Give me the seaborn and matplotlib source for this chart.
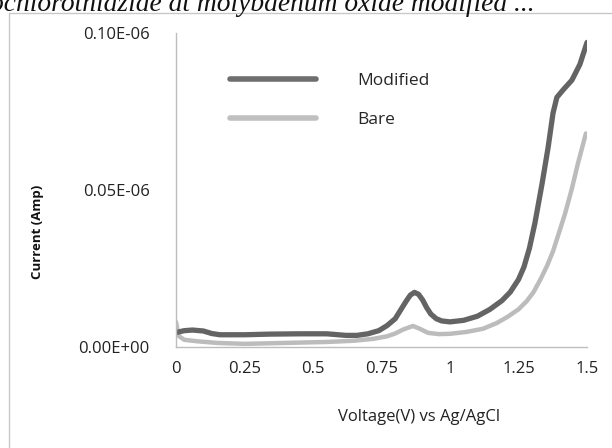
import matplotlib
matplotlib.use("Agg")
import matplotlib.pyplot as plt
import seaborn as sns
import pandas as pd
from matplotlib.lines import Line2D

# ---- data ----
mod_v = [0, 0.03, 0.06, 0.10, 0.13, 0.16, 0.25, 0.34, 0.45, 0.55, 0.62, 0.66, 0.70, 0.74,
         0.77, 0.80, 0.82, 0.84, 0.855, 0.87, 0.885, 0.90, 0.915, 0.93, 0.95, 0.97, 1.0,
         1.05, 1.1, 1.146, 1.19, 1.22, 1.25, 1.27, 1.29, 1.31, 1.336, 1.358, 1.376, 1.39,
         1.412, 1.445, 1.474, 1.50]
mod_i = [4.6, 5.2, 5.4, 5.1, 4.3, 3.9, 3.9, 4.1, 4.2, 4.2, 3.7, 3.7, 4.2, 5.2,
         6.8, 9.0, 11.8, 14.6, 16.5, 17.4, 16.8, 15.0, 12.5, 10.5, 9.0, 8.3, 8.0,
         8.5, 9.8, 12.0, 14.8, 17.5, 21.5, 25.5, 31.5, 39.5, 52.0, 63.5, 74.5, 79.5,
         81.8, 85.0, 90.0, 97.0]
bare_v = [0, 0.01, 0.03, 0.08, 0.15, 0.25, 0.35, 0.45, 0.55, 0.65, 0.72, 0.77, 0.80, 0.83,
          0.865, 0.89, 0.92, 0.96, 1.0, 1.06, 1.12, 1.17, 1.21, 1.25, 1.28, 1.305, 1.33,
          1.355, 1.376, 1.40, 1.42, 1.445, 1.467, 1.496]
bare_i = [8.0, 3.5, 2.3, 1.8, 1.3, 1.0, 1.2, 1.4, 1.6, 2.0, 2.6, 3.4, 4.3, 5.6,
          6.7, 5.8, 4.5, 4.1, 4.2, 4.8, 5.8, 7.6, 9.6, 12.0, 14.6, 17.5, 21.5,
          26.0, 30.5, 37.0, 42.5, 50.5, 58.5, 68.0]
x_ticks = [0, 0.25, 0.5, 0.75, 1, 1.25, 1.5]
x_tick_labels = ["0", "0.25", "0.5", "0.75", "1", "1.25", "1.5"]
y_ticks = [0, 0.05e-6, 0.10e-6]
y_tick_labels = ["0.00E+00", "0.05E-06", "0.10E-06"]

sns.set_style("white")
plt.rcParams['font.family'] = ['Open Sans', 'DejaVu Sans']

df_mod = pd.DataFrame({"Voltage": mod_v, "Current": [v * 1e-9 for v in mod_i]})
df_bare = pd.DataFrame({"Voltage": bare_v, "Current": [v * 1e-9 for v in bare_i]})

fig = plt.figure(figsize=(6.12, 4.48), dpi=100)
ax = fig.add_axes([176/612, 1 - 347/448, (587-176)/612, (347-33)/448])

sns.lineplot(data=df_bare, x="Voltage", y="Current", ax=ax, color="#bcbcbc",
             linewidth=3.2, sort=False, solid_joinstyle="round",
             solid_capstyle="round", legend=False)
sns.lineplot(data=df_mod, x="Voltage", y="Current", ax=ax, color="#646464",
             linewidth=3.8, sort=False, solid_joinstyle="round",
             solid_capstyle="round", legend=False)

ax.set_xlim(0, 1.5)
ax.set_ylim(0, 1.0e-7)
ax.set_xticks(x_ticks)
ax.set_xticklabels(x_tick_labels)
ax.set_yticks(y_ticks)
ax.set_yticklabels(y_tick_labels)
ax.tick_params(axis="both", length=0, labelsize=12, colors="#222222")
ax.tick_params(axis="x", pad=10)
ax.tick_params(axis="y", pad=19)
ax.set_xlabel("")
ax.set_ylabel("")
for s in ["top", "right"]:
    ax.spines[s].set_visible(False)
for s in ["left", "bottom"]:
    ax.spines[s].set_color("#bdbdbd")
    ax.spines[s].set_linewidth(1.0)

handles = [Line2D([], [], color="#6e6e6e", linewidth=4),
           Line2D([], [], color="#c0c0c0", linewidth=4)]
fig.legend(handles, ["Modified", "Bare"], loc="upper left",
           bbox_to_anchor=(230/612, 1 - 73/448), frameon=False, fontsize=12.5,
           handlelength=4.95, handletextpad=2.4, labelspacing=1.32,
           borderpad=0, borderaxespad=0)

fig.text(37/612, 1 - 232/448, "Current (Amp)", rotation=90, ha="center", va="center",
         fontsize=9.5, fontweight="bold", color="#111111")
fig.text(419/612, 1 - 417/448, "Voltage(V) vs Ag/AgCl", ha="center", va="center",
         fontsize=12, color="#222222")

# chart frame edges (left and top)
fig.add_artist(Line2D([9/612, 9/612], [0, 1 - 13/448], transform=fig.transFigure,
                      color="#c8c8c8", linewidth=1))
fig.add_artist(Line2D([9/612, 1], [1 - 13/448, 1 - 13/448], transform=fig.transFigure,
                      color="#c8c8c8", linewidth=1))

# partially cropped caption at the very top
fig.text(-10/612, 1 - 11/448, "ochlorothiazide at molybdenum oxide modified ...",
         ha="left", va="baseline", fontsize=19.8, style="italic",
         family=["Liberation Serif", "DejaVu Serif"], color="#111111")

fig.savefig("out.png", dpi=100)
